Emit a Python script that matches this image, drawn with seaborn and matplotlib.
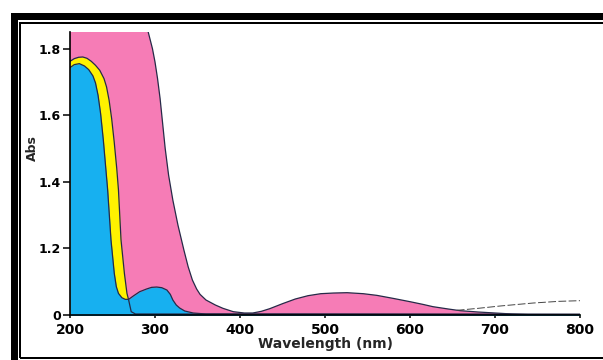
import numpy as np
import pandas as pd
import matplotlib
matplotlib.use("Agg")
import matplotlib.pyplot as plt
from matplotlib.patches import Rectangle
import seaborn as sns

# ---- data ----
pink_x = [200, 250, 285, 291, 294, 297, 300, 303, 306, 309, 312, 316, 321, 327, 334, 339, 344,
          349, 353, 360, 371, 380, 392, 405, 415, 425, 435, 450, 465, 480, 495, 510, 526, 545,
          561, 580, 600, 615, 627, 645, 659, 680, 700, 720, 740, 800]
pink_y = [2.05, 2.02, 1.95, 1.86, 1.83, 1.80, 1.76, 1.71, 1.65, 1.575, 1.50, 1.42, 1.345, 1.27,
          1.195, 1.145, 1.105, 1.078, 1.062, 1.045, 1.03, 1.02, 1.01, 1.006, 1.006, 1.011, 1.019,
          1.034, 1.048, 1.058, 1.064, 1.066, 1.067, 1.064, 1.059, 1.05, 1.04, 1.032, 1.025,
          1.018, 1.013, 1.009, 1.006, 1.003, 1.001, 1.0]

yellow_x = [200, 205, 210, 215, 220, 225, 230, 235, 240, 243, 246, 249, 252, 255, 257, 260, 264,
            267, 269, 272, 277, 800]
yellow_y = [1.762, 1.77, 1.774, 1.775, 1.771, 1.762, 1.75, 1.735, 1.71, 1.685, 1.645, 1.59, 1.52,
            1.44, 1.376, 1.226, 1.125, 1.065, 1.045, 1.01, 1.003, 1.002]

blue_x = [200, 205, 211, 217, 222, 227, 230, 233, 236, 239.2, 244.3, 248.2, 252.1, 254.5, 257, 261,
          265, 269, 275, 282, 290, 296, 302, 308, 314, 318, 321, 325, 329, 335, 345, 360, 800]
blue_y = [1.743, 1.752, 1.755, 1.748, 1.737, 1.718, 1.697, 1.66, 1.605, 1.526, 1.376, 1.226,
          1.125, 1.085, 1.065, 1.052, 1.047, 1.047, 1.058, 1.07, 1.078, 1.083, 1.084, 1.082,
          1.075, 1.062, 1.045, 1.03, 1.021, 1.012, 1.006, 1.003, 1.002]

trace_x = [655, 680, 706, 745, 775, 800]
trace_y = [1.014, 1.02, 1.027, 1.036, 1.041, 1.043]

x_ticks = [200, 300, 400, 500, 600, 700, 800]
y_ticks = [1.0, 1.2, 1.4, 1.6, 1.8]
y_tick_labels = ["0", "1.2", "1.4", "1.6", "1.8"]

PINK = "#F67CB6"
YELLOW = "#FFF200"
BLUE = "#17B0F0"
EDGE = "#262a48"

sns.set_theme(style="ticks")
plt.rcParams["font.family"] = ["DejaVu Sans"]
plt.rcParams["font.weight"] = "bold"

fig = plt.figure(figsize=(6.03, 3.60), dpi=100)
fig.patch.set_facecolor("white")
W, H = 603.0, 360.0
ax = fig.add_axes([70 / W, 1 - 315 / H, 510 / W, 283 / H])
ax.set_facecolor("white")

base = 0.9
ax.fill_between(pink_x, pink_y, base, color=PINK, lw=0, zorder=1)
ax.fill_between(yellow_x, yellow_y, base, color=YELLOW, lw=0, zorder=2)
ax.fill_between(blue_x, blue_y, base, color=BLUE, lw=0, zorder=3)

df = pd.concat([
    pd.DataFrame({"x": pink_x, "y": pink_y, "s": "pink"}),
    pd.DataFrame({"x": yellow_x, "y": yellow_y, "s": "yellow"}),
    pd.DataFrame({"x": blue_x, "y": blue_y, "s": "blue"}),
])
sns.lineplot(data=df, x="x", y="y", units="s", estimator=None, sort=False,
             color=EDGE, lw=0.9, ax=ax, zorder=5, legend=False)
sns.lineplot(x=trace_x, y=trace_y, color="#444444", lw=0.7, ax=ax, zorder=5,
             linestyle=(0, (8, 2.5)), legend=False)

ax.set_xlim(200, 800)
ax.set_ylim(1.0, 1.85)
ax.set_xticks(x_ticks)
ax.set_xticklabels([str(t) for t in x_ticks])
ax.set_yticks(y_ticks)
ax.set_yticklabels(y_tick_labels)

for s in ["top", "right"]:
    ax.spines[s].set_visible(False)
for s in ["left", "bottom"]:
    ax.spines[s].set_linewidth(1.2)
    ax.spines[s].set_color("black")
    ax.spines[s].set_zorder(6)

ax.tick_params(axis="y", length=5, width=1.1, pad=1.5, labelsize=9, colors="black")
ax.tick_params(axis="x", length=2.5, width=1.1, pad=3.5, labelsize=10, colors="black")
for lab in ax.get_xticklabels() + ax.get_yticklabels():
    lab.set_fontweight("bold")

ax.set_xlabel("Wavelength (nm)", fontsize=10, fontweight="bold", labelpad=0)
ax.set_ylabel("Abs", fontsize=9, fontweight="bold")
ax.yaxis.set_label_coords(-0.06, 0.59)

# frame (thick outer + thin inner), partially outside the image as in the scan
def px_rect(x0, y0, x1, y1, lw_px):
    r = Rectangle((x0 / W, 1 - y1 / H), (x1 - x0) / W, (y1 - y0) / H,
                  transform=fig.transFigure, fill=False, edgecolor="black",
                  linewidth=lw_px * 0.72, clip_on=False)
    fig.add_artist(r)

px_rect(13.5, 15.5, 640, 380, 7)
px_rect(20, 23, 625, 357.5, 2)

fig.savefig("out.png", dpi=100, facecolor="white")
